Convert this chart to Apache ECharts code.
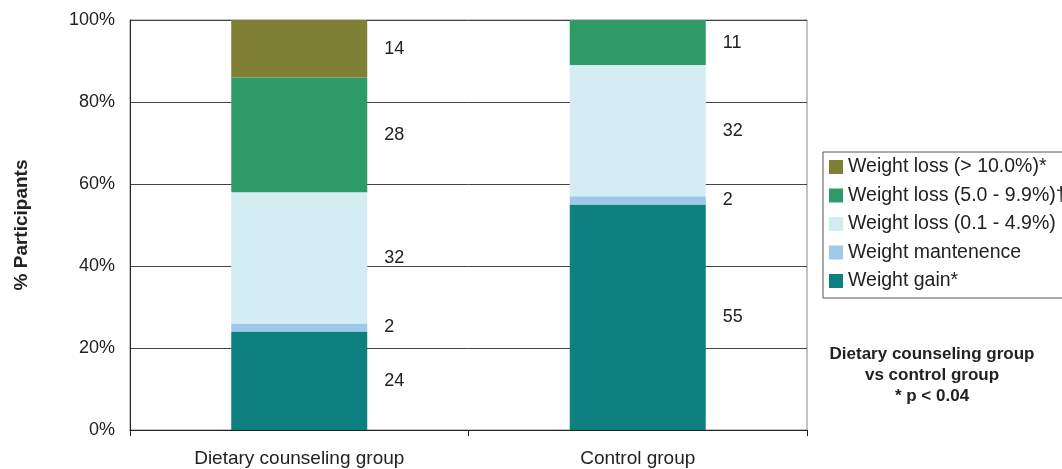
<!DOCTYPE html>
<html><head><meta charset="utf-8">
<script src="https://cdn.jsdelivr.net/npm/echarts@6/dist/echarts.min.js"></script>
<style>html,body{margin:0;padding:0;background:#fff}#c{width:1062px;height:469px}</style>
</head><body><div id="c"></div>
<script>
const categories = ['Dietary counseling group', 'Control group'];
const seriesNames = ['Weight gain*', 'Weight mantenence', 'Weight loss (0.1 - 4.9%)', 'Weight loss (5.0 - 9.9%)†', 'Weight loss (> 10.0%)*'];
const weightGain = [24, 55];
const weightMaint = [2, 2];
const loss01 = [32, 32];
const loss50 = [28, 11];
const loss10 = [14, 0];
const yTicks = [0, 20, 40, 60, 80, 100];
const colors = ['#0e8080', '#9fc9e8', '#d3edf3', '#2e9a66', '#7f7f35'];
const allData = [weightGain, weightMaint, loss01, loss50, loss10];

const chart = echarts.init(document.getElementById('c'), null, {renderer: 'canvas'});
const font = 'Liberation Sans, Arial, sans-serif';
const series = allData.map((d, i) => ({
  name: seriesNames[i],
  type: 'bar',
  stack: 'total',
  barWidth: 136,
  data: d,
  itemStyle: {color: colors[i]},
  label: {
    show: true,
    position: 'right',
    distance: 17,
    color: '#222',
    fontSize: 18,
    fontFamily: font,
    formatter: p => p.value ? String(p.value) : ''
  }
}));

chart.setOption({
  animation: false,
  grid: {left: 130, right: 255, top: 20, bottom: 39, show: true, borderColor: '#8a8a8a', borderWidth: 1},
  legend: {
    orient: 'vertical',
    left: 823,
    top: 152,
    data: seriesNames.slice().reverse(),
    itemWidth: 14,
    itemHeight: 14,
    itemGap: 8.5,
    padding: [5, 6, 7, 6],
    borderColor: '#555',
    borderWidth: 1,
    textStyle: {fontSize: 19.5, lineHeight: 19, color: '#222', fontFamily: font},
    icon: 'rect'
  },
  xAxis: {
    type: 'category',
    data: categories,
    axisLine: {lineStyle: {color: '#222', width: 1}},
    axisTick: {show: true, length: 6, lineStyle: {color: '#222'}},
    axisLabel: {fontSize: 19, color: '#222', fontFamily: font, margin: 19}
  },
  yAxis: {
    type: 'value',
    min: 0, max: 100, interval: 20,
    name: '% Participants',
    nameLocation: 'middle',
    nameRotate: 90,
    nameGap: 99,
    nameTextStyle: {fontSize: 19, fontWeight: 'bold', color: '#222', fontFamily: font},
    axisLine: {show: true, lineStyle: {color: '#222', width: 1}},
    axisTick: {show: false},
    axisLabel: {fontSize: 18, color: '#222', fontFamily: font, margin: 15,
      formatter: v => yTicks.includes(v) ? v + '%' : ''},
    splitLine: {lineStyle: {color: '#444', width: 1}}
  },
  graphic: [{
    type: 'text',
    x: 932,
    y: 344,
    style: {
      text: 'Dietary counseling group\nvs control group\n* p < 0.04',
      font: 'bold 17px Liberation Sans, Arial, sans-serif',
      fill: '#222',
      align: 'center',
      verticalAlign: 'top',
      lineHeight: 21
    }
  }],
  series: series
});
</script>
</body></html>
